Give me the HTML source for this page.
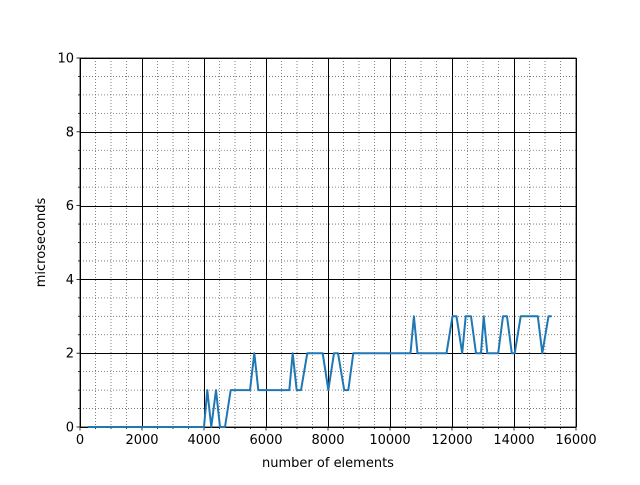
<!DOCTYPE html>
<html><head><meta charset="utf-8"><style>
body{margin:0;background:#fff}
svg{font-family:"DejaVu Sans","Liberation Sans",sans-serif}
</style></head><body>
<svg id="c" width="640" height="480" xmlns="http://www.w3.org/2000/svg"></svg>
<script>
const xs=[258,4000,4106,4235,4387,4516,4677,4861,5484,5623,5752,6752,6861,6990,7129,7332,7829,8010,8194,8323,8523,8655,8816,10661,10771,10887,11823,12016,12145,12329,12442,12613,12774,12935,13023,13139,13490,13645,13774,13929,14023,14216,14768,14913,15113,15216];
const ys=[0,0,1,0,1,0,0,1,1,2,1,1,2,1,1,2,2,1,2,2,1,1,2,2,3,2,2,3,3,2,3,3,2,2,3,2,2,3,3,2,2,3,3,2,3,3];
const xTicks=[0,2000,4000,6000,8000,10000,12000,14000,16000];
const yTicks=[0,2,4,6,8,10];
const X0=80,X1=576,Y0=427,Y1=58;
const sx=v=>X0+(v-0)/16000*(X1-X0);
const sy=v=>Y0-(v-0)/10*(Y0-Y1);
const svg=document.getElementById('c');
const NS='http://www.w3.org/2000/svg';
function mk(t,a,p){const e=document.createElementNS(NS,t);for(const k in a)e.setAttribute(k,a[k]);(p||svg).appendChild(e);return e;}
const grid=mk('g',{});


for(let v=500;v<16000;v+=500){if(v%2000)mk('line',{x1:sx(v),x2:sx(v),y1:Y1,y2:Y0,stroke:'#666','stroke-width':0.8,'stroke-dasharray':'1,2'},grid);}
for(let v=0.5;v<10;v+=0.5){if(v%2)mk('line',{x1:X0,x2:X1,y1:sy(v),y2:sy(v),stroke:'#666','stroke-width':0.8,'stroke-dasharray':'1,2'},grid);}
xTicks.forEach(v=>{mk('line',{x1:Math.round(sx(v))+0.5,x2:Math.round(sx(v))+0.5,y1:Y1,y2:Y0,stroke:'#000','stroke-width':1},grid);});
yTicks.forEach(v=>{mk('line',{x1:X0,x2:X1,y1:Math.round(sy(v))+0.5,y2:Math.round(sy(v))+0.5,stroke:'#000','stroke-width':1},grid);});
const ax=mk('g',{});


for(let v=0;v<=16000;v+=500){mk('line',{x1:sx(v),x2:sx(v),y1:Y0,y2:Y0+(v%2000?2:3.5),stroke:'#000','stroke-width':0.8},ax);}
for(let v=0;v<=10;v+=0.5){mk('line',{x1:X0,x2:X0-(v%2?2:3.5),y1:sy(v),y2:sy(v),stroke:'#000','stroke-width':0.8},ax);}
xTicks.forEach(v=>{const t=mk('text',{x:sx(v),y:Y0+17,'text-anchor':'middle','font-size':13},ax);t.textContent=v;

});
yTicks.forEach(v=>{const t=mk('text',{x:X0-6,y:sy(v)+4.5,'text-anchor':'end','font-size':13},ax);t.textContent=v;

});
const line=mk('polyline',{points:xs.map((x,i)=>sx(x)+','+sy(ys[i])).join(' '),fill:'none',stroke:'#1f77b4','stroke-width':2,'stroke-linejoin':'round'});


mk('rect',{x:X0,y:Y1,width:X1-X0,height:Y0-Y1,fill:'none',stroke:'#000','stroke-width':0.8},ax);
const xl=mk('text',{x:(X0+X1)/2,y:467,'text-anchor':'middle','font-size':13});xl.textContent='number of elements';


const yl=mk('text',{x:0,y:0,'text-anchor':'middle','font-size':13,transform:'translate(45,'+((Y0+Y1)/2)+') rotate(-90)'});yl.textContent='microseconds';


</script>
</body></html>
